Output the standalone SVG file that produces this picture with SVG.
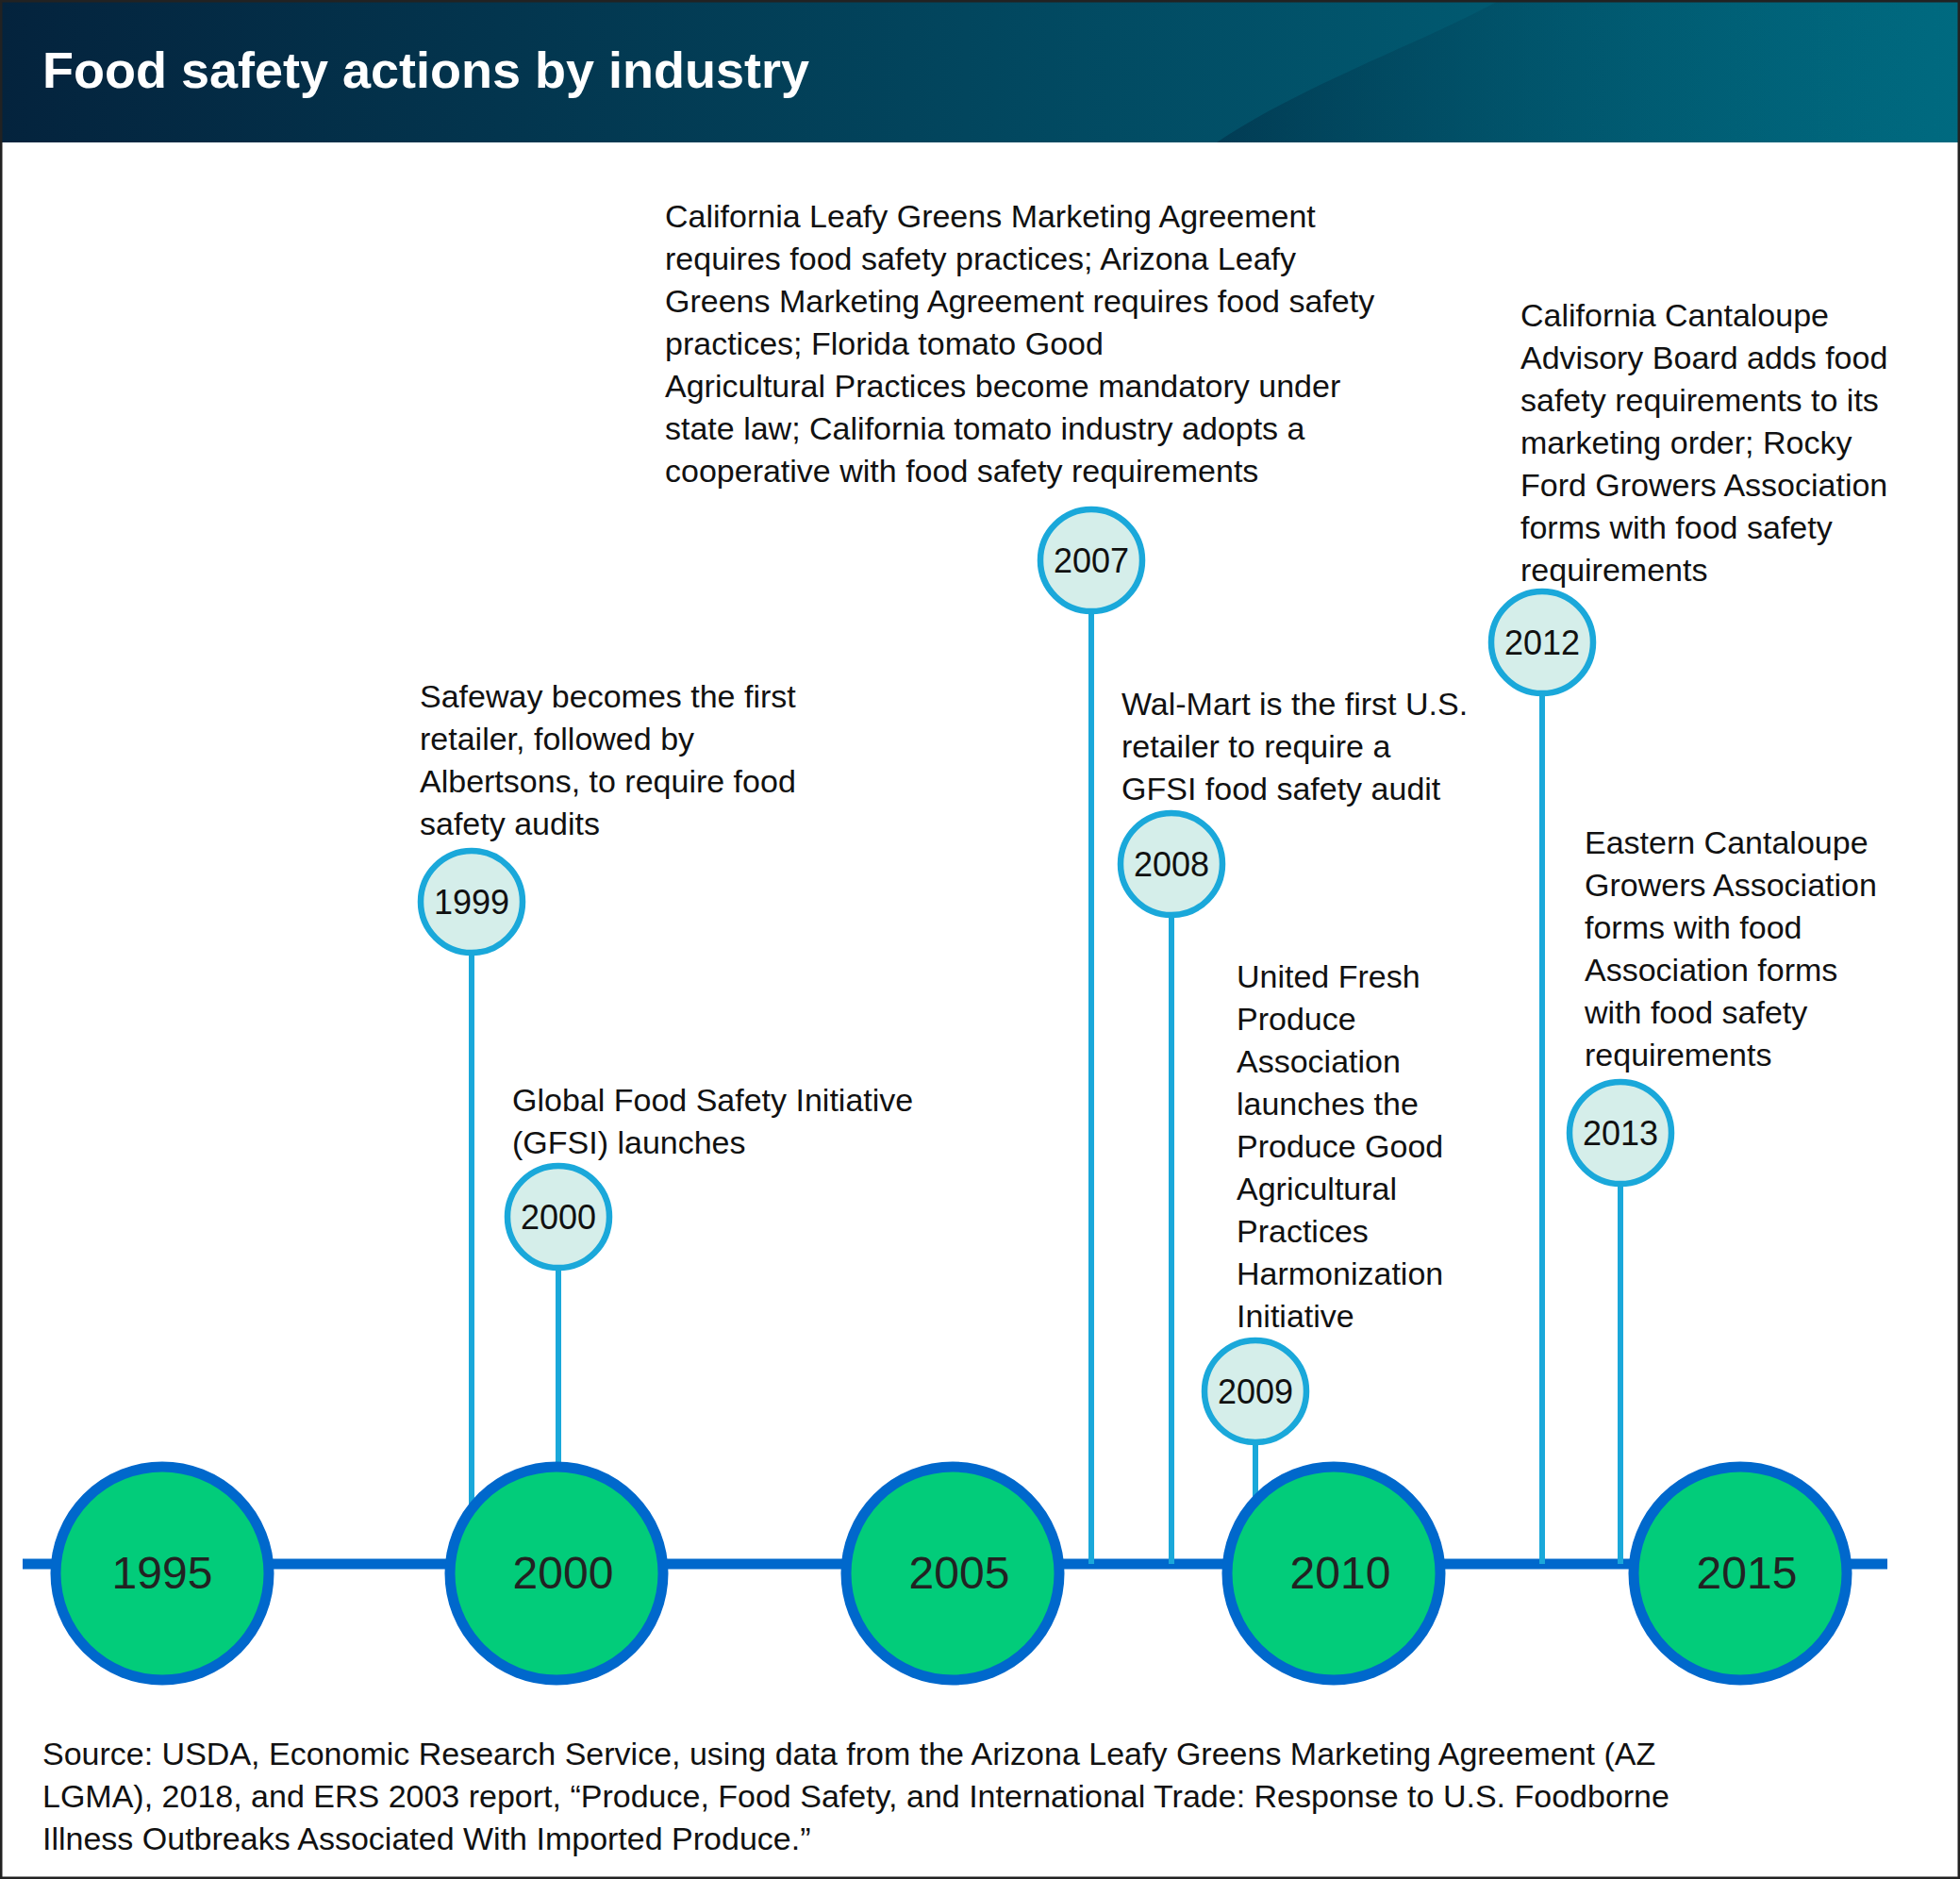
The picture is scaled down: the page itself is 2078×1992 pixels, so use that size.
<svg xmlns="http://www.w3.org/2000/svg" width="2078" height="1992" viewBox="0 0 2078 1992">
<defs>
<linearGradient id="hg" x1="0" y1="0" x2="1" y2="0">
<stop offset="0" stop-color="#04233d"/><stop offset="1" stop-color="#006a80"/>
</linearGradient>
<linearGradient id="wg" x1="0" y1="0" x2="1" y2="0">
<stop offset="0" stop-color="#022c45" stop-opacity="0.9"/><stop offset="1" stop-color="#006a80" stop-opacity="0"/>
</linearGradient>
<style>
.t{font-family:"Liberation Sans",Arial,sans-serif;font-size:34px;fill:#111}
.big{fill:#02cc7a;stroke:#0068cc;stroke-width:11}
.bt{font-family:"Liberation Sans",Arial,sans-serif;font-size:48px;fill:#222;text-anchor:middle}
.sm{fill:#d5eeea;stroke:#1aa8da;stroke-width:6.5}
.st{font-family:"Liberation Sans",Arial,sans-serif;font-size:36px;fill:#111;text-anchor:middle}
.stem{stroke:#1aa8da;stroke-width:6}
</style>
</defs>
<rect x="0" y="0" width="2078" height="1992" fill="#fff"/>
<rect x="0" y="0" width="2078" height="151" fill="url(#hg)"/>
<path d="M1290 151 C1380 90 1520 40 1590 0 L2078 0 L2078 151 Z" fill="url(#wg)" opacity="0.6"/>
<text x="45" y="93" style="font-family:'Liberation Sans',Arial,sans-serif;font-weight:bold;font-size:54px;fill:#fff">Food safety actions by industry</text>
<rect x="1" y="1" width="2076" height="1990" fill="none" stroke="#222" stroke-width="3"/>
<g id="connectors">
<line x1="24" y1="1658" x2="2001" y2="1658" stroke="#0068cc" stroke-width="11"/>
<line class="stem" x1="500" y1="1012" x2="500" y2="1658"/>
<line class="stem" x1="592" y1="1346" x2="592" y2="1658"/>
<line class="stem" x1="1157" y1="650" x2="1157" y2="1658"/>
<line class="stem" x1="1242" y1="972" x2="1242" y2="1658"/>
<line class="stem" x1="1331" y1="1531" x2="1331" y2="1658"/>
<line class="stem" x1="1635" y1="737" x2="1635" y2="1658"/>
<line class="stem" x1="1718" y1="1257" x2="1718" y2="1658"/>
</g>
<g id="y1995"><circle class="big" cx="172" cy="1668" r="113"/><text class="bt" x="172" y="1684">1995</text></g>
<g id="y2000big"><circle class="big" cx="590" cy="1668" r="113"/><text class="bt" x="597" y="1684">2000</text></g>
<g id="y2005"><circle class="big" cx="1010" cy="1668" r="113"/><text class="bt" x="1017" y="1684">2005</text></g>
<g id="y2010"><circle class="big" cx="1414" cy="1668" r="113"/><text class="bt" x="1421" y="1684">2010</text></g>
<g id="y2015"><circle class="big" cx="1845" cy="1668" r="113"/><text class="bt" x="1852" y="1684">2015</text></g>
<g id="e1999"><circle class="sm" cx="500" cy="956" r="54"/><text class="st" x="500" y="969">1999</text>
<text class="t" x="445" y="750">Safeway becomes the first</text><text class="t" x="445" y="795">retailer, followed by</text><text class="t" x="445" y="840">Albertsons, to require food</text><text class="t" x="445" y="885">safety audits</text></g>
<g id="e2000"><circle class="sm" cx="592" cy="1290" r="54"/><text class="st" x="592" y="1303">2000</text>
<text class="t" x="543" y="1178">Global Food Safety Initiative</text><text class="t" x="543" y="1223">(GFSI) launches</text></g>
<g id="e2007"><circle class="sm" cx="1157" cy="594" r="54"/><text class="st" x="1157" y="607">2007</text>
<text class="t" x="705" y="241">California Leafy Greens Marketing Agreement</text><text class="t" x="705" y="286">requires food safety practices; Arizona Leafy</text><text class="t" x="705" y="331">Greens Marketing Agreement requires food safety</text><text class="t" x="705" y="376">practices; Florida tomato Good</text><text class="t" x="705" y="421">Agricultural Practices become mandatory under</text><text class="t" x="705" y="466">state law; California tomato industry adopts a</text><text class="t" x="705" y="511">cooperative with food safety requirements</text></g>
<g id="e2008"><circle class="sm" cx="1242" cy="916" r="54"/><text class="st" x="1242" y="929">2008</text>
<text class="t" x="1189" y="758">Wal-Mart is the first U.S.</text><text class="t" x="1189" y="803">retailer to require a</text><text class="t" x="1189" y="848">GFSI food safety audit</text></g>
<g id="e2009"><circle class="sm" cx="1331" cy="1475" r="54"/><text class="st" x="1331" y="1488">2009</text>
<text class="t" x="1311" y="1047">United Fresh</text><text class="t" x="1311" y="1092">Produce</text><text class="t" x="1311" y="1137">Association</text><text class="t" x="1311" y="1182">launches the</text><text class="t" x="1311" y="1227">Produce Good</text><text class="t" x="1311" y="1272">Agricultural</text><text class="t" x="1311" y="1317">Practices</text><text class="t" x="1311" y="1362">Harmonization</text><text class="t" x="1311" y="1407">Initiative</text></g>
<g id="e2012"><circle class="sm" cx="1635" cy="681" r="54"/><text class="st" x="1635" y="694">2012</text>
<text class="t" x="1612" y="346">California Cantaloupe</text><text class="t" x="1612" y="391">Advisory Board adds food</text><text class="t" x="1612" y="436">safety requirements to its</text><text class="t" x="1612" y="481">marketing order; Rocky</text><text class="t" x="1612" y="526">Ford Growers Association</text><text class="t" x="1612" y="571">forms with food safety</text><text class="t" x="1612" y="616">requirements</text></g>
<g id="e2013"><circle class="sm" cx="1718" cy="1201" r="54"/><text class="st" x="1718" y="1214">2013</text>
<text class="t" x="1680" y="905">Eastern Cantaloupe</text><text class="t" x="1680" y="950">Growers Association</text><text class="t" x="1680" y="995">forms with food</text><text class="t" x="1680" y="1040">Association forms</text><text class="t" x="1680" y="1085">with food safety</text><text class="t" x="1680" y="1130">requirements</text></g>
<g id="source">
<text class="t" x="45" y="1871">Source: USDA, Economic Research Service, using data from the Arizona Leafy Greens Marketing Agreement (AZ</text>
<text class="t" x="45" y="1916">LGMA), 2018, and ERS 2003 report, “Produce, Food Safety, and International Trade: Response to U.S. Foodborne</text>
<text class="t" x="45" y="1961">Illness Outbreaks Associated With Imported Produce.”</text>
</g>
</svg>
